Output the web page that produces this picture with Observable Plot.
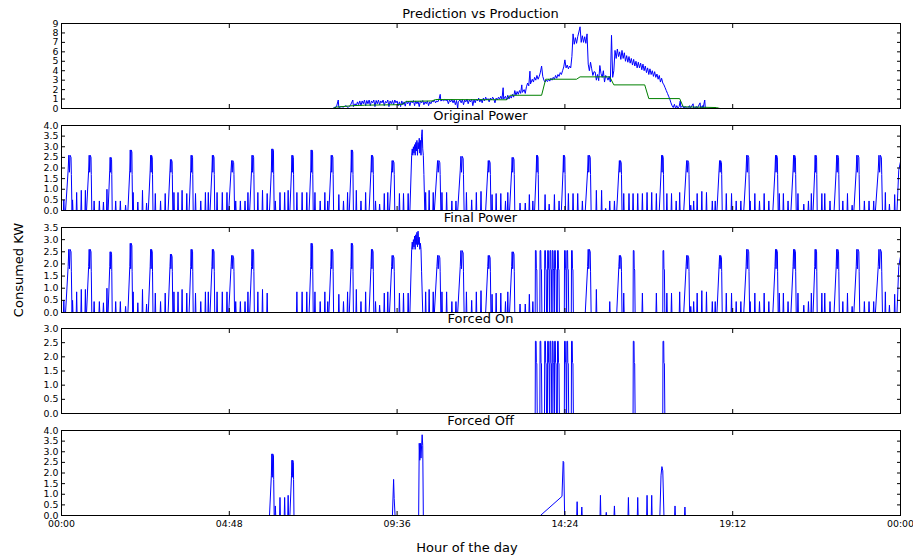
<!DOCTYPE html>
<html>
<head>
<meta charset="utf-8">
<script src="https://cdn.jsdelivr.net/npm/d3@7"></script>
<script src="https://cdn.jsdelivr.net/npm/@observablehq/plot@0.6"></script>
<style>
  body { margin: 0; background: #fff; }
  #fig { position: relative; width: 913px; height: 559px; font-family: "DejaVu Sans", sans-serif; color: #000; }
  #fig svg { position: absolute; left: 0; }
</style>
</head>
<body>
<div id="fig"></div>
<script>
// Time axis: minutes since midnight, ticks every 4h48m
const hourTicks = [0, 288, 576, 864, 1152, 1440];
const hourTickLabels = ["00:00", "04:48", "09:36", "14:24", "19:12", "00:00"];

// Panel titles and axis labels
const panelTitles = ["Prediction vs Production", "Original Power", "Final Power", "Forced On", "Forced Off"];
const yLabel = "Consumed KW";
const xLabel = "Hour of the day";

// ---- Prediction vs Production: [minute, kW] ----
const production = [
  [0,0],[466,0],[468,0.1],[472,0.2],[475,0.9],[476,0.1],[480,0.2],[484,0.15],[488,0.3],[492,0.1],[496,0.35],[500,0.9],[501,0.2],
  [504,0.5],[506,0.3],[508,0.7],[510,0.4],[512,0.8],[514,0.3],[516,0.8],[518,0.5],[520,0.9],[522,0.3],[524,0.85],[526,0.5],
  [528,0.9],[530,0.3],[532,0.8],[534,0.6],[536,0.9],[538,0.2],[540,0.85],[542,0.5],[544,0.9],[546,0.4],[548,0.8],[550,0.6],
  [552,0.9],[554,0.3],[556,0.75],[558,0.6],[560,0.9],[562,0.2],[564,0.8],[566,0.5],[568,0.85],[570,0.4],[572,0.9],[574,0.6],
  [576,0.8],[578,0.3],[580,0.7],[582,0.2],[584,0.8],[586,0.4],[588,0.7],[590,0.25],[592,0.8],[594,0.5],[596,0.75],[598,0.3],
  [600,0.8],[602,0.6],[604,0.85],[606,0.3],[608,0.8],[610,0.5],[612,0.75],[614,0.2],[616,0.8],[618,0.6],[620,0.85],[622,0.4],
  [624,0.7],[626,0.5],[628,0.8],[630,0.3],[632,0.7],[634,0.5],[636,0.8],[638,0.7],[640,0.9],[642,0.6],[644,0.8],[646,0.7],
  [648,1.0],[650,1.5],[651,0.8],[654,0.9],[656,0.8],[658,0.95],[660,0.85],[662,0.9],[664,0.5],[666,0.9],[668,0.7],[670,0.95],
  [672,0.6],[674,0.9],[676,0.4],[678,0.85],[680,0.0],[681,0.7],[684,0.9],[686,0.6],[688,0.95],[690,0.4],[692,0.9],[694,0.7],
  [696,1.0],[698,0.5],[700,0.9],[702,0.7],[704,1.0],[706,0.3],[708,0.95],[710,0.6],[712,1.0],[714,0.8],[716,1.1],[718,0.7],
  [720,1.0],[722,0.6],[724,1.1],[726,0.8],[728,1.2],[730,0.9],[732,1.05],[734,0.7],[736,1.1],[738,0.9],[740,1.2],[742,1.0],
  [744,0.6],[746,1.1],[748,0.9],[750,1.2],[752,1.0],[754,1.3],[756,1.0],[758,2.2],[759,1.0],[762,1.3],[764,0.9],[766,1.4],
  [768,1.0],[770,1.3],[772,1.1],[774,1.5],[776,1.2],[778,1.9],[780,1.4],[782,1.8],[784,1.5],[786,1.9],[788,1.6],[790,2.5],
  [791,1.7],[794,2.0],[796,1.6],[798,2.3],[800,2.7],[802,2.4],[804,3.95],[805,2.6],[808,3.1],[810,2.8],[812,3.3],[814,3.0],
  [816,3.5],[818,3.1],[820,3.4],[822,3.85],[824,4.5],[826,3.4],[828,3.0],[830,2.8],[832,3.0],[834,2.85],[836,3.1],[838,2.9],
  [840,3.2],[842,3.0],[844,3.3],[846,3.1],[848,3.5],[850,3.2],[852,3.6],[854,3.4],[856,3.8],[858,3.6],[860,4.0],[862,4.4],
  [864,5.15],[866,4.3],[868,4.6],[870,4.2],[872,4.5],[874,4.3],[876,5.5],[878,7.9],[880,6.8],[882,7.5],[884,6.9],[886,7.6],
  [888,8.1],[890,8.65],[892,7.0],[894,7.7],[896,7.0],[898,7.6],[900,6.9],[902,7.9],[904,4.7],[906,4.0],[908,4.9],[910,4.2],
  [912,3.5],[914,3.9],[916,3.85],[918,3.0],[920,3.6],[922,2.95],[924,4.55],[926,3.7],[928,3.3],[930,4.0],[932,2.8],[934,3.5],
  [936,3.3],[938,3.0],[940,3.4],[942,2.8],[944,7.75],[946,3.3],[948,4.0],[950,6.15],[952,5.3],[954,6.3],[956,5.5],[958,6.0],
  [960,5.2],[962,6.15],[964,5.3],[966,5.9],[968,5.0],[970,5.6],[972,4.9],[974,5.5],[976,4.8],[978,5.3],[980,4.6],[982,5.2],
  [984,4.5],[986,5.0],[988,4.3],[990,4.9],[992,4.3],[994,4.8],[996,4.1],[998,4.7],[1000,4.0],[1002,4.5],[1004,3.8],[1006,4.3],
  [1008,3.6],[1010,4.2],[1012,3.6],[1014,4.0],[1016,3.4],[1018,3.9],[1020,3.3],[1022,3.65],[1024,3.1],[1026,3.5],[1028,2.8],
  [1030,3.2],[1032,2.7],[1034,2.5],[1036,2.2],[1038,1.9],[1040,1.6],[1042,1.3],[1044,1.0],[1046,0.6],[1048,0.3],[1050,0.1],
  [1052,0.45],[1054,0.0],[1056,0.3],[1058,0.05],[1060,0.2],[1062,0.8],[1063,0.1],[1066,0.3],[1068,0.0],[1070,0.2],[1074,0.0],
  [1078,0.3],[1079,0.0],[1084,0.5],[1085,0],[1090,0.2],[1091,0],[1096,0.6],[1097,0],[1100,0.3],[1101,0],[1104,0.9],[1105,0],
  [1440,0]
];
const prediction = [
  [118,0],[466,0],[472,0.15],[500,0.3],[520,0.35],[575,0.4],[585,0.45],[592,0.75],[636,0.8],[642,0.95],[764,0.92],[770,1.4],
  [824,1.4],[831,3.1],[884,3.1],[890,3.35],[941,3.35],[948,2.5],[1001,2.5],[1008,1.05],[1061,1.05],[1067,0.18],[1124,0.1],[1130,0]
];

// ---- Original Power ----
// short appliance spikes: [minute, kW]
const originalSpikes = [
  [4,0.5],[19,0.5],[26,0.85],[34,0.95],[41,0.95],[56,0.45],[65,0.45],[72,0.4],[78,1.0],[93,0.45],[101,0.45],[110,0.25],
  [123,0.85],[131,0.4],[139,0.95],[146,0.35],[161,0.8],[170,0.45],[178,0.8],[193,0.85],[200,0.85],[207,0.95],[215,0.8],
  [230,0.8],[239,0.45],[247,0.85],[252,0.85],[267,0.85],[276,0.85],[284,0.85],[299,0.45],[307,0.45],[315,0.45],[320,0.85],
  [337,0.85],[345,0.95],[353,0.8],[367,0.45],[375,0.85],[383,0.85],[389,0.95],[404,0.85],[413,0.85],[421,0.85],[435,0.85],
  [444,0.45],[452,0.85],[457,0.45],[476,0.75],[484,0.45],[491,0.85],[506,0.95],[514,0.45],[522,0.85],[539,0.45],[546,0.3],
  [554,0.8],[560,0.85],[580,0.8],[587,0.8],[595,0.8],[625,0.85],[631,0.95],[638,0.85],[653,0.85],[661,0.85],[670,0.45],
  [677,0.45],[695,0.85],[704,0.5],[712,0.85],[720,0.9],[739,0.75],[746,0.8],[754,0.8],[762,0.45],[766,0.85],[787,0.35],
  [796,0.35],[803,0.75],[809,0.45],[830,0.75],[837,0.3],[846,0.75],[854,0.45],[870,0.8],[878,0.8],[886,0.8],[894,0.45],
  [918,0.95],[927,0.95],[934,0.1],[941,0.45],[949,0.45],[965,0.8],[974,0.8],[981,0.8],[989,0.8],[997,0.8],[1005,0.85],
  [1013,0.85],[1021,0.8],[1039,0.8],[1047,0.8],[1055,0.45],[1061,0.85],[1080,0.25],[1085,0.45],[1091,0.8],[1099,0.9],
  [1107,0.85],[1117,0.45],[1122,0.45],[1141,0.8],[1150,0.8],[1158,0.45],[1166,0.45],[1182,0.45],[1190,0.8],[1198,0.45],
  [1206,0.8],[1214,0.45],[1232,0.8],[1239,0.8],[1247,0.45],[1264,0.8],[1274,0.3],[1282,0.45],[1287,0.8],[1305,0.8],
  [1310,0.8],[1319,0.45],[1341,0.45],[1349,0.8],[1357,0.25],[1378,0.45],[1386,0.45],[1394,0.45],[1414,0.85],[1421,0.3],
  [1430,0.75]
];
// compressor cycles: [start minute, end minute, peak kW]
const originalCycles = [
  [7,18,2.6],[43,52,2.6],[80,87,2.5],[114,122,2.85],[149,157,2.6],[183,191,2.4],[219,226,2.6],[255,263,2.6],[287,297,2.35],
  [323,331,2.6],[357,365,2.9],[392,399,2.6],[425,432,2.85],[459,467,2.6],[494,501,2.85],[528,536,2.6],[563,572,2.35],
  [640,651,2.35],[680,691,2.55],[728,737,2.35],[769,778,2.5],[812,819,2.6],[858,865,2.6],[899,909,2.6],[953,962,2.35],
  [1026,1034,2.6],[1068,1078,2.35],[1125,1134,2.35],[1171,1181,2.6],[1221,1230,2.6],[1252,1261,2.6],[1290,1297,2.6],
  [1326,1335,2.6],[1360,1370,2.6],[1397,1409,2.6]
];
// the long high-load stretch after 09:58 and the cycle cut off at midnight
const originalSurge = [
  [598,0],[601,2.6],[602,2.9],[603,2.6],[604,3.0],[605,2.7],[606,3.1],[607,2.6],[608,3.2],[609,2.8],[610,3.3],[611,2.6],
  [612,3.2],[613,2.9],[614,3.4],[615,2.7],[616,3.3],[617,2.6],[618,3.5],[619,3.8],[620,2.9],[621,2.6],[622,1.7],[623.5,0]
];
const originalTail = [[1434,0],[1437,1.9],[1440,2.3]];

// ---- Forced On: pulse start minute, peak kW ----
const forcedOnPulses = [
  [813,2.55],[821,2.55],[829,2.55],[834,2.55],[838,2.55],[842,2.55],[846,2.55],[851,2.55],[863,2.55],[867,2.55],
  [875,2.55],[981,2.55],[1032,2.55]
];

// ---- Forced Off ----
const forcedOffSpikes = [
  [367,0.45],[375,0.85],[383,0.85],[389,0.95],[885,0.65],[893,0.4],[925,0.95],[935,0.15],[949,0.45],[973,0.85],
  [989,0.85],[1005,0.95],[1013,0.95],[1053,0.45],[1070,0.4]
];
const forcedOffCycles = [[357,365,2.9],[392,399,2.6]];
const forcedOffTraces = [
  [568,0],[570,1.7],[571,0.8],[572.5,0],
  [613,0],[614,3.4],[615,2.6],[616,3.4],[617,2.7],[619,3.8],[620,3.3],[621,0],
  [822,0],[859,0.9],[861,2.55],[862,2.5],[863.5,0],
  [1027,0],[1029,1.9],[1030.5,2.3],[1032,2.1],[1034,0]
];

// ---- Final Power: original minus forced-off events, plus forced-on pulses ----
const finalDroppedSpikes = [367,375,383,389,830,837,846,854,870,878,886,894,927,934,949,974,981,989,1005,1013,1055];
const finalDroppedCycles = [357,392,812,858,1026];
const finalSurge = [
  [598,0],[601,2.6],[602,2.9],[603,2.6],[604,3.0],[605,2.7],[606,3.15],[607,2.6],[608,3.2],[609,2.8],[610,3.3],[611,2.7],
  [612,3.35],[613,2.8],[614,3.1],[615,2.6],[616,2.85],[617,2.6],[618,1.7],[620,0]
];

// ---- vertex builders ----
const spikeVertices = s => s.flatMap(([t, h]) => [[t - 0.7, 0], [t, h], [t + 0.7, 0]]);
const cycleVertices = c => c.flatMap(([s, e, p]) => {
  const w = e - s;
  return [[s, 0], [s + 0.4 * w, 1.9], [s + 0.5 * w, p], [s + 0.6 * w, 1.8], [s + 0.7 * w, p],
          [s + 0.85 * w, p - 0.1], [s + 0.9 * w, 1.7], [e, 0]];
});
const pulseVertices = p => p.flatMap(([s, h]) => [[s, 0], [s + 0.4, h], [s + 1.6, h], [s + 2, 1.8], [s + 2.8, 1.75], [s + 3.5, 0]]);
const trace = (...parts) => parts.flat().sort((a, b) => a[0] - b[0]);

const originalLine = trace([[0, 0]], spikeVertices(originalSpikes), cycleVertices(originalCycles), originalSurge, originalTail);
const finalLine = trace(
  [[0, 0]],
  spikeVertices(originalSpikes.filter(([t]) => !finalDroppedSpikes.includes(t))),
  cycleVertices(originalCycles.filter(([s]) => !finalDroppedCycles.includes(s))),
  pulseVertices(forcedOnPulses), finalSurge, originalTail
);
const forcedOnLine = trace([[0, 0], [1440, 0]], pulseVertices(forcedOnPulses));
const forcedOffLine = trace([[0, 0], [1440, 0]], spikeVertices(forcedOffSpikes), cycleVertices(forcedOffCycles), forcedOffTraces);

const BLUE = "#0000ff", GREEN = "#008000";
const fmt1 = d3.format(".1f");

const panels = [
  {top: 23,  yMax: 9,   yStep: 1,   fmt: d3.format("d"), series: [[production, BLUE], [prediction, GREEN]]},
  {top: 125, yMax: 4,   yStep: 0.5, fmt: fmt1, series: [[originalLine, BLUE]]},
  {top: 227, yMax: 3.5, yStep: 0.5, fmt: fmt1, series: [[finalLine, BLUE]]},
  {top: 328, yMax: 3,   yStep: 0.5, fmt: fmt1, series: [[forcedOnLine, BLUE]]},
  {top: 430, yMax: 4,   yStep: 0.5, fmt: fmt1, series: [[forcedOffLine, BLUE]], last: true}
];

const fig = document.getElementById("fig");
const INNER = 85, MT = 6;

panels.forEach((p, i) => {
  const mb = p.last ? 26 : 6;
  const yTicks = d3.range(0, p.yMax + 1e-9, p.yStep);
  const chart = Plot.plot({
    width: 913,
    height: MT + INNER + mb,
    marginLeft: 61, marginRight: 13, marginTop: MT, marginBottom: mb,
    style: {fontFamily: "DejaVu Sans", fontSize: "9.4px", color: "#000", background: "transparent", overflow: "visible"},
    x: {domain: [0, 1440]},
    y: {domain: [0, p.yMax]},
    marks: [
      ...p.series.map(([data, color]) => Plot.line(data, {x: d => d[0], y: d => d[1], stroke: color, strokeWidth: 1})),
      Plot.axisY({anchor: "left", ticks: yTicks, tickSize: -4, tickPadding: 7, tickFormat: p.fmt, label: null}),
      Plot.axisY({anchor: "right", ticks: yTicks, tickSize: -4, tickFormat: () => "", label: null}),
      Plot.axisX({anchor: "top", ticks: hourTicks, tickSize: -4, tickFormat: () => "", label: null}),
      Plot.axisX({anchor: "bottom", ticks: hourTicks, tickSize: -4, tickPadding: 9, label: null,
                  tickFormat: p.last ? (d => hourTickLabels[hourTicks.indexOf(d)]) : () => ""}),
      Plot.frame({stroke: "#000", strokeWidth: 1})
    ]
  });
  chart.style.top = (p.top - MT) + "px";
  fig.appendChild(chart);
});

// titles and axis labels
const overlay = d3.select(fig).append("svg")
  .attr("width", 913).attr("height", 559)
  .style("top", "0px").style("pointer-events", "none")
  .attr("font-family", "DejaVu Sans").attr("fill", "#000");
panels.forEach((p, i) => {
  overlay.append("text").attr("x", 480.5).attr("y", p.top - 4.6)
    .attr("text-anchor", "middle").attr("font-size", 13).text(panelTitles[i]);
});
overlay.append("text").attr("x", 467).attr("y", 551.5)
  .attr("text-anchor", "middle").attr("font-size", 13).text(xLabel);
overlay.append("text").attr("transform", "translate(23.3,270) rotate(-90)")
  .attr("text-anchor", "middle").attr("font-size", 13).text(yLabel);
</script>
</body>
</html>
